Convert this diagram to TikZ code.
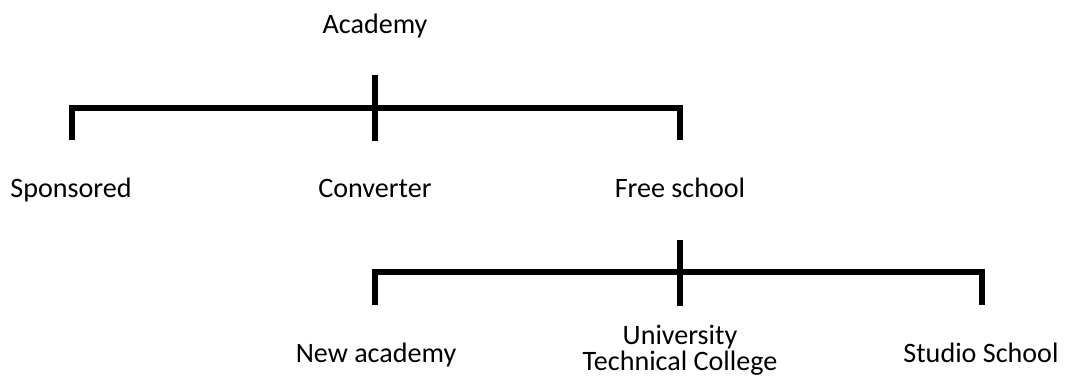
\documentclass[tikz,border=0pt]{standalone}
\usepackage{fontspec}
\setmainfont{Carlito}
\usetikzlibrary{positioning}

\begin{document}
\begin{tikzpicture}[line cap=butt,line join=miter,x=0.02cm,y=-0.02cm,
    bar/.style={line width=2.9pt},
    lbl/.style={font=\fontsize{16}{11.5}\selectfont,inner sep=0pt,align=center,anchor=base}]
    \useasboundingbox (0,0) rectangle (1065,380);
    % labels
    \node[lbl] (academy) at (375,33) {Academy};
    \node[lbl] (spons) at (71,197) {Sponsored};
    \node[lbl] (conv) at (375,197) {Converter};
    \node[lbl] (free) at (680,197) {Free school};
    \node[lbl] (newac) at (376,362) {New academy};
    \node[lbl] (utc) at (680,370) {University\\Technical College};
    \node[lbl] (studio) at (981,362) {Studio School};
    % first bracket
    \coordinate (a1) at (375,75);
    \coordinate (a2) at (375,141);
    \coordinate (h1) at (375,108);
    \coordinate (l1) at (72,140);
    \coordinate (r1) at (680,140);
    \draw[bar] (a1) -- (a2);
    \draw[bar] (l1) |- (r1 |- h1) -- (r1);
    % second bracket
    \coordinate (b1) at (680,240);
    \coordinate (b2) at (680,306);
    \coordinate (h2) at (680,272);
    \coordinate (l2) at (375,305);
    \coordinate (r2) at (982,305);
    \draw[bar] (b1) -- (b2);
    \draw[bar] (l2) |- (r2 |- h2) -- (r2);
\end{tikzpicture}
\end{document}
